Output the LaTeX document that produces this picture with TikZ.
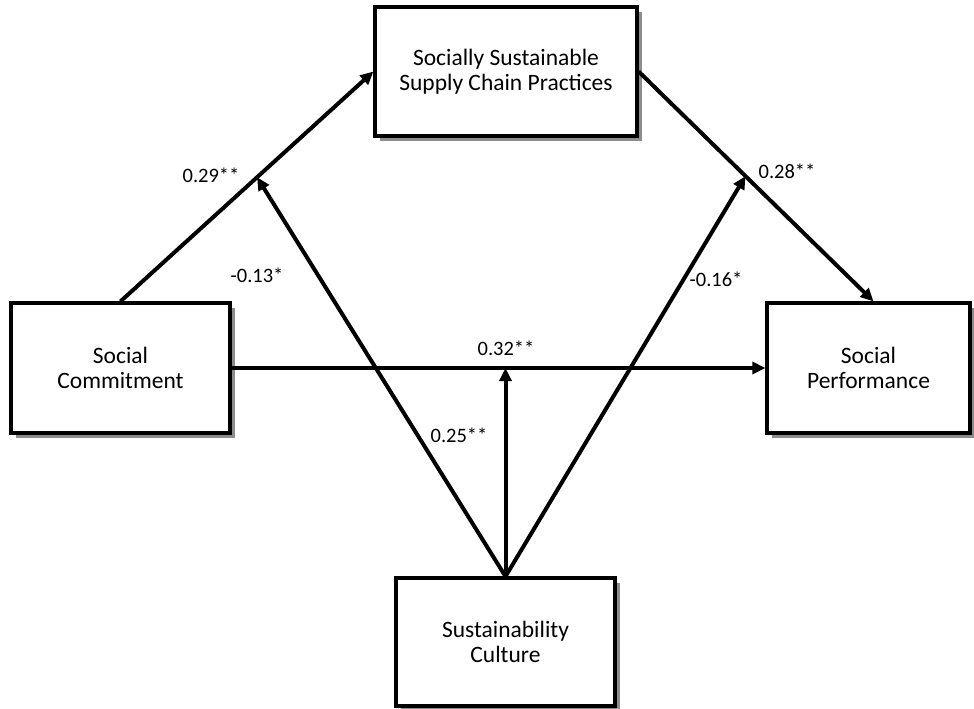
\documentclass[tikz,border=0pt]{standalone}
\usepackage{fontspec}
\setmainfont{Carlito}
\usetikzlibrary{arrows.meta,shadows,calc}
\begin{document}
\begin{tikzpicture}[x=1pt,y=-1pt,
  box/.style={draw=black,line width=3.2pt,fill=white,align=center,
    font=\fontsize{23.5}{25.5}\selectfont,inner sep=0pt,
    drop shadow={shadow xshift=5pt,shadow yshift=-5pt,fill=black!45,opacity=1}},
  conn/.style={line width=4pt,-{Triangle[length=13pt,width=12pt]}},
  lbl/.style={font=\fontsize{20.5}{22}\selectfont,inner sep=0pt}]
\useasboundingbox (0,0) rectangle (974,709);
\node[box,minimum width=262pt,minimum height=129pt] (sssc) at (506,71.5) {Socially Sustainable\\Supply Chain Practices};
\node[box,minimum width=219pt,minimum height=130pt] (sc) at (120.5,368) {Social\\Commitment};
\node[box,minimum width=203pt,minimum height=130pt] (sp) at (868.5,368) {Social\\Performance};
\node[box,minimum width=219pt,minimum height=128pt] (cu) at (505.5,642) {Sustainability\\Culture};
\coordinate (m1) at ($(sc.north)!0.54!(sssc.west)$);
\coordinate (m2) at ($(sssc.east)!0.455!([xshift=5pt]sp.north)$);
\coordinate (m0) at (cu.north |- sc.east);
\draw[conn] (sc.north) -- (sssc.west);
\draw[conn] (sssc.east) -- ([xshift=5pt]sp.north);
\draw[conn] (sc.east) -- (sp.west);
\draw[conn] (cu.north) -- (m0);
\draw[conn] (cu.north) -- (m1);
\draw[conn] (cu.north) -- (m2);
\node[lbl] (l1) at (211,175) {0.29**};
\node[lbl] (l2) at (257,275) {-0.13*};
\node[lbl] (l3) at (787,171) {0.28**};
\node[lbl] (l4) at (716,279) {-0.16*};
\node[lbl] (l5) at (506,348) {0.32**};
\node[lbl] (l6) at (459,435) {0.25**};
\end{tikzpicture}
\end{document}
